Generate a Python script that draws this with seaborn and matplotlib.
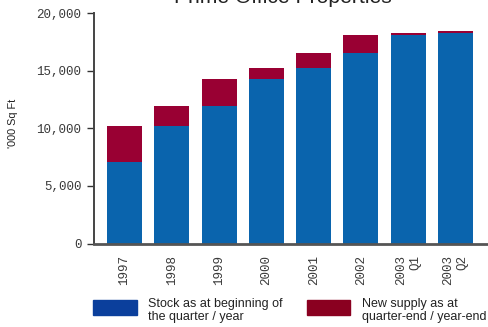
import matplotlib
matplotlib.use("Agg")
import matplotlib.pyplot as plt
from matplotlib.patches import Rectangle
import seaborn as sns
import pandas as pd

# Prime office floorspace ('000 sq ft)
periods = ["1997", "1998", "1999", "2000", "2001", "2002", "2003\nQ1", "2003\nQ2"]
stock = [7100, 10200, 11950, 14300, 15250, 16550, 18130, 18280]
new_supply = [3100, 1750, 2350, 950, 1300, 1580, 150, 200]
y_ticks = [0, 5000, 10000, 15000, 20000]

BLUE = "#0a64ad"
RED = "#990033"
LEG_BLUE = "#0b3f9c"
LEG_RED = "#8a0020"

sns.set_theme(style="white")
plt.rcParams["font.family"] = ["Liberation Sans", "DejaVu Sans"]

df = pd.DataFrame({"period": periods, "stock": stock, "new": new_supply})
df["total"] = df["stock"] + df["new"]

fig = plt.figure(figsize=(4.88, 3.27), dpi=100)
ax = fig.add_axes([94 / 488, 1 - 243.5 / 327, 1 - 94 / 488, (243.5 - 13.3) / 327])

sns.barplot(data=df, x="period", y="total", color=RED, width=0.74,
            saturation=1, edgecolor="none", linewidth=0, ax=ax)
sns.barplot(data=df, x="period", y="stock", color=BLUE, width=0.74,
            saturation=1, edgecolor="none", linewidth=0, ax=ax)

ax.set_xlim(-0.645, 7.687)
ax.set_ylim(0, 20000)
ax.set_yticks(y_ticks)
ax.set_yticklabels([f"{v:,}" for v in y_ticks], family="Liberation Mono",
                   fontsize=9, color="#3a3a3a")
ax.set_xticks(range(len(periods)))
ax.set_xticklabels(periods, rotation=90, ha="center", va="top",
                   multialignment="right", family="Liberation Mono",
                   fontsize=9, color="#3a3a3a")
ax.set_xlabel("")
ax.set_ylabel("")
ax.tick_params(axis="y", left=True, length=5, width=1, color="#333333", pad=4)
ax.tick_params(axis="x", bottom=False, pad=2)

for side in ("top", "right"):
    ax.spines[side].set_visible(False)
ax.spines["left"].set_color("#444444")
ax.spines["left"].set_linewidth(1.4)
ax.spines["bottom"].set_color("#555555")
ax.spines["bottom"].set_linewidth(2)

fig.text(283 / 488, 1 - 3 / 327, "Prime Office Properties", ha="center",
         va="baseline", fontsize=15.2, color="#222222")
fig.text(13 / 488, 1 - 123 / 327, "'000 Sq Ft", rotation=90, ha="center",
         va="center", fontsize=7.8, color="#222222")

# Legend drawn below the axis
fig.add_artist(Rectangle((93 / 488, 1 - 315 / 327), 44 / 488, 15 / 327,
                         transform=fig.transFigure, color=LEG_BLUE))
fig.add_artist(Rectangle((307 / 488, 1 - 315 / 327), 43 / 488, 15 / 327,
                         transform=fig.transFigure, color=LEG_RED))
fig.text(148 / 488, 1 - 310.5 / 327, "Stock as at beginning of\nthe quarter / year",
         ha="left", va="center", fontsize=9, color="#222222", linespacing=1.05)
fig.text(362 / 488, 1 - 310.5 / 327, "New supply as at\nquarter-end / year-end",
         ha="left", va="center", fontsize=9, color="#222222", linespacing=1.05)

fig.savefig("out.png", dpi=100)
